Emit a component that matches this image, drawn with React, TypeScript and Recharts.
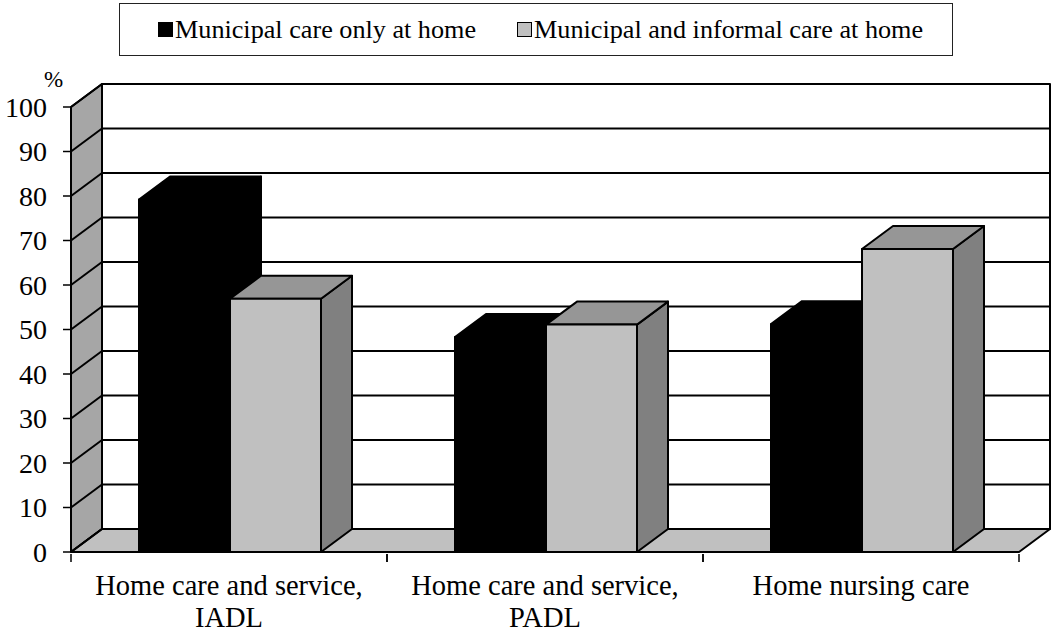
import React from 'react';
import { BarChart, Bar, XAxis, YAxis, CartesianGrid, Legend, ReferenceArea, Label } from 'recharts';

const categories = ['Home care and service,|IADL', 'Home care and service,|PADL', 'Home nursing care'];
const municipalOnly = [79.2, 48.3, 51.2];
const municipalInformal = [56.9, 51.1, 68.1];
const yTicks = [0, 10, 20, 30, 40, 50, 60, 70, 80, 90, 100];
const seriesNames = ['Municipal care only at home', 'Municipal and informal care at home'];

const rows = categories.map((category, i) => ({
  category,
  only: municipalOnly[i],
  both: municipalInformal[i],
}));

const DX = 31;
const DY = 23;
const SHIFT = 1;
const FONT = '"Liberation Serif", "Times New Roman", serif';
const LINE = '#000';

const poly = (pts: number[][]) => pts.map((p) => p.join(',')).join(' ');

function Bar3D(props: any) {
  const { y, width, height, front, top, side, edge } = props;
  const x = props.x + SHIFT;
  const b = y + height;
  const r = x + width;
  return (
    <g stroke={edge} strokeWidth={2} strokeLinejoin="round">
      <polygon points={poly([[r, y], [r + DX, y - DY], [r + DX, b - DY], [r, b]])} fill={side} />
      <polygon points={poly([[x, y], [x + DX, y - DY], [r + DX, y - DY], [r, y]])} fill={top} />
      <rect x={x} y={y} width={width} height={height} fill={front} />
    </g>
  );
}

function Walls(props: any) {
  const { x, y, width, height } = props;
  const b = y + height;
  return (
    <g stroke={LINE} strokeWidth={2} strokeLinejoin="round">
      <polygon points={poly([[x + DX, y - DY], [x + width + DX, y - DY], [x + width + DX, b - DY], [x + DX, b - DY]])} fill="#fff" />
      <polygon points={poly([[x, y], [x + DX, y - DY], [x + DX, b - DY], [x, b]])} fill="#a6a6a6" />
      <polygon points={poly([[x, b], [x + DX, b - DY], [x + width + DX, b - DY], [x + width, b]])} fill="#c0c0c0" />
    </g>
  );
}

function GridLine(props: any) {
  const { x1, y1, x2, y2 } = props;
  return (
    <g stroke={LINE} strokeWidth={2}>
      <line x1={x1} y1={y1} x2={x1 + DX} y2={y1 - DY} />
      <line x1={x1 + DX} y1={y1 - DY} x2={x2 + DX} y2={y2 - DY} />
    </g>
  );
}

function CategoryTick(props: any) {
  const { x, y, payload } = props;
  const half = payload.offset ?? 0;
  const lines = String(payload.value).split('|');
  return (
    <g>
      <line x1={x - half} y1={y - 8} x2={x - half} y2={y} stroke={LINE} strokeWidth={1.5} />
      <line x1={x + half} y1={y - 8} x2={x + half} y2={y} stroke={LINE} strokeWidth={1.5} />
      {lines.map((t, i) => (
        <text key={t} x={x} y={y + 33 + i * 32} textAnchor="middle" fontFamily={FONT} fontSize={28.5} fill="#000">
          {t}
        </text>
      ))}
    </g>
  );
}

function LegendBox({ payload }: any) {
  return (
    <div
      style={{
        boxSizing: 'border-box',
        width: 834,
        height: 53,
        border: '1.5px solid #222',
        background: '#fff',
        display: 'flex',
        alignItems: 'center',
        paddingLeft: 38,
        fontFamily: FONT,
        fontSize: 26.2,
        color: '#000',
        whiteSpace: 'nowrap',
      }}
    >
      {(payload || []).map((p: any) => (
        <span key={p.value} style={{ display: 'inline-flex', alignItems: 'center', marginRight: 41 }}>
          <span
            style={{
              display: 'inline-block',
              boxSizing: 'border-box',
              width: 15,
              height: 15,
              marginRight: 2,
              background: p.color,
              border: '1.5px solid #000',
            }}
          />
          {p.value}
        </span>
      ))}
    </div>
  );
}

export default function App() {
  return (
    <div style={{ position: 'absolute', left: 0, top: 0 }}>
      <BarChart
        width={1051}
        height={631}
        data={rows}
        margin={{ top: 107, right: 32, bottom: 0, left: 0 }}
        barCategoryGap={67}
        barGap={0}
      >
        <ReferenceArea y1={0} y2={100} shape={<Walls />} ifOverflow="visible" zIndex={-200} />
        <CartesianGrid vertical={false} horizontal={(p: any) => <GridLine {...p} />} />
        <XAxis
          dataKey="category"
          tick={<CategoryTick />}
          tickLine={false}
          height={79}
          interval={0}
          tickSize={8}
          axisLine={{ stroke: LINE, strokeWidth: 2 }}
        />
        <YAxis
          width={71}
          domain={[0, 100]}
          ticks={yTicks}
          interval={0}
          tickSize={8}
          tickMargin={16}
          axisLine={{ stroke: LINE, strokeWidth: 2 }}
          tickLine={{ stroke: LINE, strokeWidth: 1.5 }}
          tick={{ fontFamily: FONT, fontSize: 28, fill: '#000' }}
        >
          <Label
            content={() => (
              <text x={44} y={87} fontFamily={FONT} fontSize={23} fill="#000">
                %
              </text>
            )}
          />
        </YAxis>
        <Legend
          verticalAlign="middle"
          layout="horizontal"
          itemSorter={null}
          wrapperStyle={{ left: 119, top: 3, width: 834, height: 53 }}
          content={<LegendBox />}
        />
        <Bar
          dataKey="only"
          name={seriesNames[0]}
          fill="#000"
          isAnimationActive={false}
          shape={<Bar3D front="#000" top="#000" side="#000" edge="#000" />}
        />
        <Bar
          dataKey="both"
          name={seriesNames[1]}
          fill="#c0c0c0"
          isAnimationActive={false}
          shape={<Bar3D front="#c0c0c0" top="#969696" side="#808080" edge="#000" />}
        />
      </BarChart>
    </div>
  );
}
